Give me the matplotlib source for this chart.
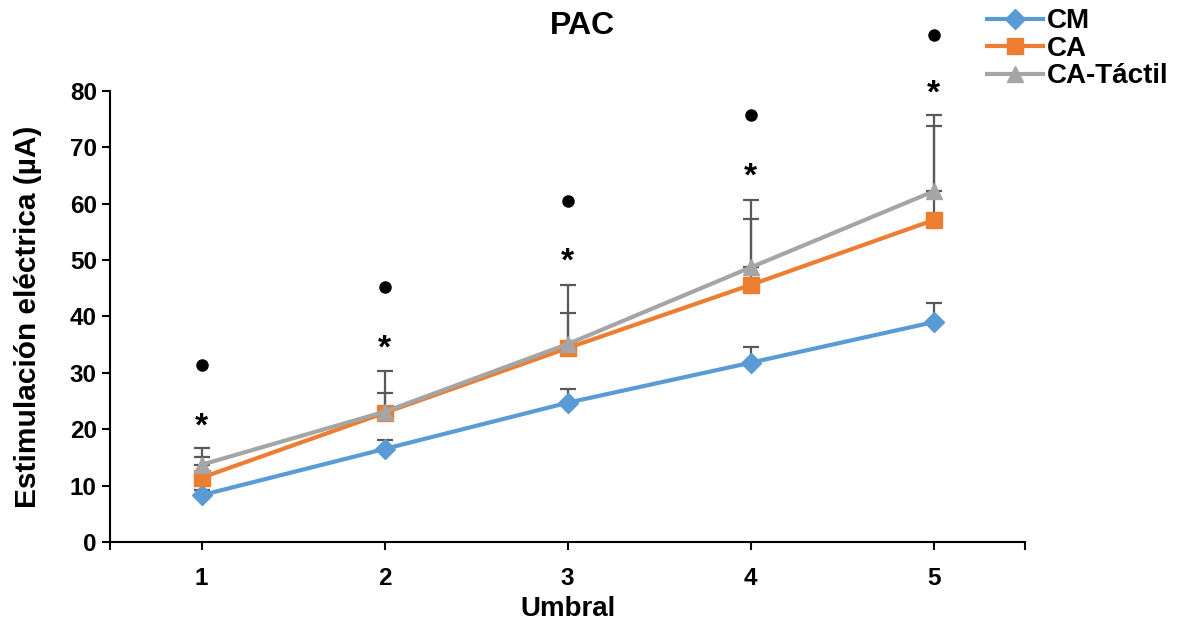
import numpy as np
import matplotlib
matplotlib.use("Agg")
import matplotlib.pyplot as plt

plt.rcParams['font.family'] = ['Liberation Sans', 'DejaVu Sans']
plt.rcParams['font.weight'] = 'bold'

# Umbral levels and mean stimulation per group
umbral = [1, 2, 3, 4, 5]
cm = [8.3, 16.5, 24.7, 31.8, 39.0]
ca = [11.4, 22.9, 34.4, 45.6, 57.1]
ca_tactil = [13.7, 23.1, 35.1, 48.7, 62.2]

# upper error (SD)
cm_err = [1.0, 1.6, 2.4, 2.8, 3.4]
ca_err = [3.7, 3.6, 6.3, 11.7, 16.6]
ca_tactil_err = [3.0, 7.3, 10.4, 12.0, 13.6]

# significance markers above each level
star_y = [20.3, 34.2, 49.6, 64.7, 79.5]
dot_y = [31.4, 45.3, 60.5, 75.7, 90.0]

series_names = ['CM', 'CA', 'CA-Táctil']
colors = ['#5B9BD5', '#ED7D31', '#A5A5A5']
markers = ['D', 's', '^']
msizes = [10.5, 11, 12]

fig = plt.figure(figsize=(11.77, 6.30), dpi=100)
ax = fig.add_axes([0.0935, 0.1397, 0.7775, 0.7159])

x = np.array(umbral)
for vals, errs, name, c, m, ms in zip([cm, ca, ca_tactil],
                                      [cm_err, ca_err, ca_tactil_err],
                                      series_names, colors, markers, msizes):
    ax.errorbar(x, vals, yerr=[np.zeros(len(errs)), errs], fmt='none',
                ecolor='#595959', elinewidth=1.6, capsize=6, capthick=1.6,
                zorder=2)
    ax.plot(x, vals, color=c, lw=3, marker=m, ms=ms, label=name, zorder=3)

for xi, sy, dy in zip(x, star_y, dot_y):
    ax.text(xi, sy, '*', ha='center', va='center', fontsize=24,
            fontweight='bold', clip_on=False)
    ax.plot(xi, dy, 'o', color='black', ms=8, clip_on=False)

ax.set_xlim(0.5, 5.5)
ax.set_ylim(0, 80)
ax.set_yticks(range(0, 81, 10))
ax.set_xticks(umbral)
ax.set_xticks([0.5, 5.5], minor=True)
ax.tick_params(axis='both', which='both', direction='out', length=6,
               width=1.5, labelsize=17.5)
ax.tick_params(axis='x', pad=12)
for side in ['top', 'right']:
    ax.spines[side].set_visible(False)
for side in ['left', 'bottom']:
    ax.spines[side].set_linewidth(1.5)

ax.set_xlabel('Umbral', fontsize=20, fontweight='bold', labelpad=4)
ax.set_ylabel('Estimulación eléctrica (µA)', fontsize=21.5, fontweight='bold',
              labelpad=20)
fig.text(0.495, 0.958, 'PAC', ha='center', va='center', fontsize=23,
         fontweight='bold')

fig.legend(loc='upper right', bbox_to_anchor=(1.007, 1.013), frameon=False,
           fontsize=20, handlelength=2.0, handletextpad=0.15, labelspacing=0.05,
           borderaxespad=0.2)

fig.savefig('out.png', dpi=100)
